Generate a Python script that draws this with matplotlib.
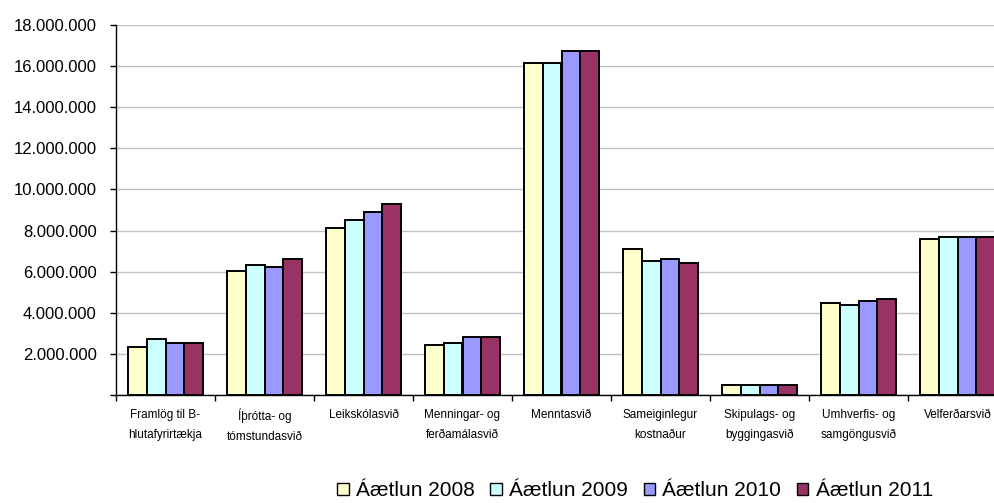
import matplotlib
matplotlib.use("Agg")
import matplotlib.pyplot as plt
from matplotlib.patches import Patch
from matplotlib.ticker import FuncFormatter, FixedLocator
import numpy as np

categories = [
    "Framlög til B-\nhlutafyrirtækja",
    "Íþrótta- og\ntómstundasvið",
    "Leikskólasvið",
    "Menningar- og\nferðamálasvið",
    "Menntasvið",
    "Sameiginlegur\nkostnaður",
    "Skipulags- og\nbyggingasvið",
    "Umhverfis- og\nsamgöngusvið",
    "Velferðarsvið",
]
series_names = ["Áætlun 2008", "Áætlun 2009", "Áætlun 2010", "Áætlun 2011"]
aetlun_2008 = [2330000, 6050000, 8140000, 2430000, 16150000, 7100000, 490000, 4490000, 7590000]
aetlun_2009 = [2720000, 6320000, 8530000, 2510000, 16150000, 6520000, 490000, 4380000, 7700000]
aetlun_2010 = [2510000, 6230000, 8920000, 2820000, 16720000, 6610000, 490000, 4570000, 7700000]
aetlun_2011 = [2510000, 6610000, 9310000, 2820000, 16720000, 6420000, 490000, 4670000, 7700000]
series = [aetlun_2008, aetlun_2009, aetlun_2010, aetlun_2011]
colors = ["#FFFFCC", "#CCFFFF", "#9999FF", "#993366"]
y_ticks = [0, 2000000, 4000000, 6000000, 8000000, 10000000, 12000000, 14000000, 16000000, 18000000]

plt.rcParams['font.family'] = ['Liberation Sans', 'DejaVu Sans']

fig = plt.figure(figsize=(9.95, 5.03), dpi=100)
ax = fig.add_axes([116/995, 1 - 395/503, (1007 - 116)/995, (395 - 25)/503])

x = np.arange(len(categories))
bw = 0.19
for i, (vals, c) in enumerate(zip(series, colors)):
    ax.bar(x + (i - 1.5) * bw, vals, width=bw, color=c, edgecolor="black",
           linewidth=1.4, zorder=3)

ax.set_xlim(-0.5, len(categories) - 0.5)
ax.set_ylim(0, 18000000)
ax.set_yticks(y_ticks)

def fmt(v, pos):
    if v == 0:
        return ""
    return f"{int(v):,}".replace(",", ".")

ax.yaxis.set_major_formatter(FuncFormatter(fmt))
ax.yaxis.grid(True, color="#c0c0c0", linewidth=1.0, zorder=0)
ax.set_axisbelow(True)

ax.set_xticks(x)
ax.set_xticklabels(categories, fontsize=8.5, linespacing=1.85)
ax.tick_params(axis="x", which="major", length=0, pad=10)
ax.xaxis.set_minor_locator(FixedLocator(np.arange(len(categories) + 1) - 0.5))
ax.tick_params(axis="x", which="minor", length=4, width=1, color="black", direction="out")
ax.tick_params(axis="y", length=4, width=1, color="black", direction="out", labelsize=12, pad=10)

for s in ["top", "right"]:
    ax.spines[s].set_visible(False)
ax.spines["left"].set_color("black")
ax.spines["bottom"].set_color("black")
ax.spines["left"].set_linewidth(1.0)
ax.spines["bottom"].set_linewidth(1.0)

handles = [Patch(facecolor=c, edgecolor="black", linewidth=1.0) for c in colors]
fig.legend(handles, series_names, loc="center", bbox_to_anchor=(635/995, 1 - 491/503),
           ncol=4, frameon=False, fontsize=15, handlelength=0.55, handleheight=0.55,
           handletextpad=0.35, columnspacing=0.75, borderaxespad=0, borderpad=0)

fig.savefig("out.png", dpi=100)
